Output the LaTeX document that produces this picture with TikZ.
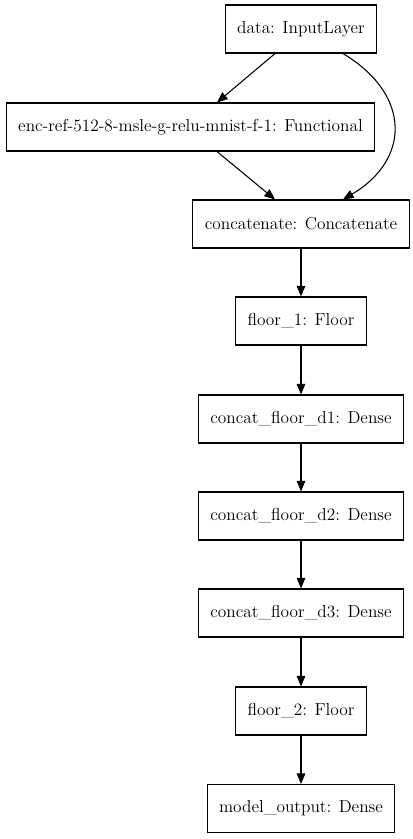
\documentclass[tikz,border=0pt]{standalone}
\usetikzlibrary{arrows.meta,calc}

\tikzset{
  layer/.style={draw, line width=0.8pt, fill=white, inner xsep=9pt, inner ysep=0pt,
    minimum height=36pt, font=\fontsize{13}{15}\selectfont},
  flow/.style={line width=0.8pt, -{Triangle[length=8pt,width=6.5pt]}}
}

\begin{document}
\begin{tikzpicture}[x=0.75pt, y=-0.75pt]

% Frame
\useasboundingbox (0,0) rectangle (412,839);

% Layers
\node[layer] (data) at (301,29) {data: InputLayer};
\node[layer] (enc) at (190.5,127) {enc-ref-512-8-msle-g-relu-mnist-f-1: Functional};
\node[layer] (concat) at (301,224) {concatenate: Concatenate};
\node[layer] (floor1) at (301,321) {floor\_1: Floor};
\node[layer] (dense1) at (301,419) {concat\_floor\_d1: Dense};
\node[layer] (dense2) at (301,516) {concat\_floor\_d2: Dense};
\node[layer] (dense3) at (301,613) {concat\_floor\_d3: Dense};
\node[layer] (floor2) at (301,711) {floor\_2: Floor};
\node[layer] (out) at (301,808.5) {model\_output: Dense};

% Inputs into concatenate
\draw[flow] ($(data.south)+(-26,0)$) -- ($(enc.north)+(26.5,0)$);
\draw[flow] ($(enc.south)+(26.5,0)$) -- ($(concat.north)+(-26,0)$);
\draw[flow] ($(data.south)+(42,0)$) .. controls (412,95) and (410,160) .. ($(concat.north)+(42,0)$);

% Chain down to the output
\foreach \a/\b in {concat/floor1, floor1/dense1, dense1/dense2, dense2/dense3, dense3/floor2, floor2/out} {
    \draw[flow] (\a.south) -- (\b.north);
}

\end{tikzpicture}
\end{document}
